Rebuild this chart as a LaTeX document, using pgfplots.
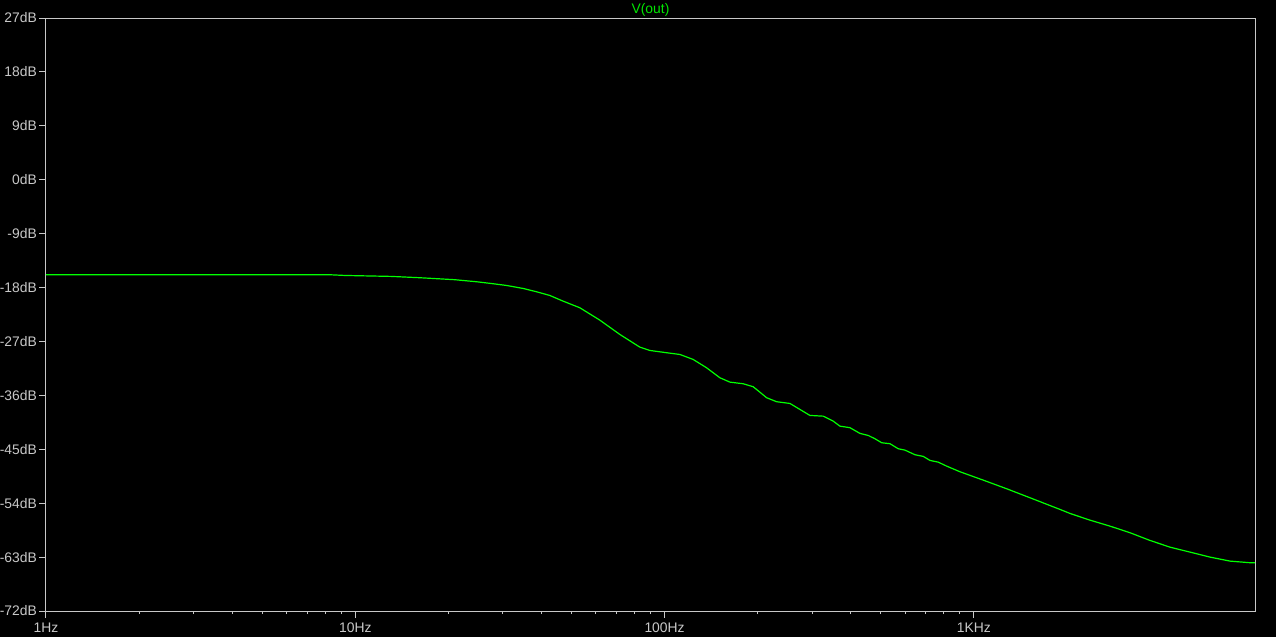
\documentclass[border=0pt]{standalone}
\usepackage{fontspec}
\setmainfont{Liberation Sans}
\usepackage{pgfplots}
\pgfplotsset{compat=1.18}
\definecolor{ltgray}{RGB}{200,200,200}
\definecolor{trace}{RGB}{0,255,0}
\definecolor{ttl}{RGB}{0,230,0}
\begin{document}
\begin{tikzpicture}
% black page, 1276x637 px at 0.75pt per px; plot box starts at (46,611)
\fill[black] (-34.5pt,-19.5pt) rectangle (922.5pt,458.25pt);
\begin{axis}[
    at={(0,0)}, anchor=south west,
    scale only axis,
    width=906.75pt, height=444.75pt,
    xmode=log,
    xmin=1, xmax=8110,
    ymin=-72, ymax=27,
    xtick={1,10,100,1000},
    xticklabels={1Hz,10Hz,100Hz,1KHz},
    ytick={-72,-63,-54,-45,-36,-27,-18,-9,0,9,18,27},
    yticklabels={-72dB,-63dB,-54dB,-45dB,-36dB,-27dB,-18dB,-9dB,0dB,9dB,18dB,27dB},
    xtick pos=bottom, ytick pos=left,
    tick align=outside,
    major tick length=5.25pt,
    minor tick length=2.25pt,
    every tick/.style={ltgray, line width=0.75pt},
    axis line style={ltgray, line width=0.75pt},
    ticklabel style={text=ltgray, font=\fontsize{10.4}{12}\selectfont},
    yticklabel style={inner sep=1pt, xshift=-0.5pt},
    title={V(out)},
    title style={text=ttl, font=\fontsize{10.4}{12}\selectfont, at={(0.5,1)}, anchor=south, inner sep=1pt, yshift=-6pt},
]
\addplot[trace, line width=0.9pt] coordinates {
(1,-15.86) (8.27,-15.86) (9.25,-15.98) (13.09,-16.14) (16.17,-16.36)
(18.52,-16.53) (20.98,-16.69) (24.66,-17.03) (27.9,-17.36) (30.83,-17.65)
(34.89,-18.15) (38.55,-18.70) (42.56,-19.32) (46.99,-20.27) (53.2,-21.37)
(61.77,-23.44) (71.7,-25.83) (83.2,-27.95) (89.6,-28.50) (101.5,-28.88)
(112.1,-29.17) (123.7,-30.0) (136.7,-31.39) (151,-33.06) (162.7,-33.79)
(179.6,-34.06) (193.5,-34.56) (213.8,-36.39) (230.3,-37.06) (254.3,-37.35)
(273.9,-38.35) (295.1,-39.35) (325.8,-39.47) (351.1,-40.30) (369,-41.14)
(397.4,-41.39) (428.3,-42.35) (455.5,-42.69) (478.8,-43.24) (503.5,-43.91)
(535.5,-44.07) (569.6,-44.91) (598.8,-45.14) (645.1,-45.91) (686.2,-46.19)
(721.4,-46.86) (767.4,-47.15) (816.6,-47.81) (901.6,-48.75) (1072.4,-50.15)
(1276.5,-51.59) (1518.5,-53.09) (1898.6,-55.04) (2045,-55.71) (2374,-56.83)
(2755,-57.83) (3198,-58.93) (3712,-60.22) (4308,-61.34) (5000,-62.17)
(5803,-63.0) (6736,-63.67) (7816,-63.94) (8110,-63.94)
};
\end{axis}
\pgfresetboundingbox
\path[use as bounding box] (-34.5pt,-19.5pt) rectangle (922.5pt,458.25pt);
\end{tikzpicture}
\end{document}
